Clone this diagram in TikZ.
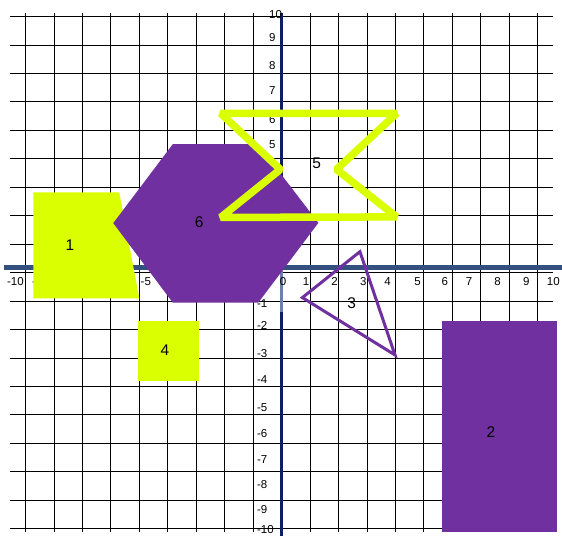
\documentclass[tikz,border=0pt]{standalone}
\usepackage{fontspec}
\setmainfont{Liberation Sans}
\definecolor{shapepurple}{HTML}{7030A0}
\definecolor{shapeyellow}{HTML}{D9FF00}
\definecolor{axnavy}{HTML}{0C1F5E}
\definecolor{axsteel}{HTML}{34507F}
\definecolor{axlight}{HTML}{6A82AA}

\begin{document}
\begin{tikzpicture}[x=27.17pt, y=25.95pt,
  axlab/.style={inner sep=0pt, font=\fontsize{11.5}{13}\selectfont},
  shlab/.style={inner sep=0pt, font=\fontsize{15.5}{18}\selectfont}]
\useasboundingbox (-10.368,-10.146) rectangle (10.317,10.509);
\draw[line width=1pt, black] (-10,-10) grid (10,10);
\draw[line width=3pt, axnavy] (0,10) -- (0,-10.2);
\draw[line width=5pt, axsteel] (-10.22,0.19) -- (10.32,0.19);
\draw[line width=3pt, axlight] (0,0.1) -- (0,-1.52);

% x axis numbers
\node (xm10) at (-9.8,-0.35) [axlab] {-10};
\node (xm9)  at (-9.0,-0.35) [axlab] {-9};
\node (xm5)  at (-5.0,-0.35) [axlab] {-5};
\node (x0)   at (0.05,-0.35) [axlab] {0};
\node (x1)   at (0.9,-0.35)  [axlab] {1};
\node (x2)   at (1.95,-0.35) [axlab] {2};
\node (x3)   at (3.0,-0.35)  [axlab] {3};
\node (x4)   at (3.9,-0.35)  [axlab] {4};
\node (x5)   at (5.0,-0.35)  [axlab] {5};
\node (x6)   at (6.0,-0.35)  [axlab] {6};
\node (x7)   at (6.9,-0.35)  [axlab] {7};
\node (x8)   at (7.95,-0.35) [axlab] {8};
\node (x9)   at (9.0,-0.35)  [axlab] {9};
\node (x10)  at (10.0,-0.35) [axlab] {10};

% y axis numbers
\node (y10) at (-0.47,9.93) [axlab, anchor=west] {10};
\node (y9)  at (-0.47,9.07) [axlab, anchor=west] {9};
\node (y8)  at (-0.47,8.0)  [axlab, anchor=west] {8};
\node (y7)  at (-0.47,7.01) [axlab, anchor=west] {7};
\node (y6)  at (-0.47,5.91) [axlab, anchor=west] {6};
\node (y5)  at (-0.47,4.92) [axlab, anchor=west] {5};
\node (ym1)  at (-0.91,-1.18)  [axlab, anchor=west] {-1};
\node (ym2)  at (-0.91,-2.05)  [axlab, anchor=west] {-2};
\node (ym3)  at (-0.91,-3.11)  [axlab, anchor=west] {-3};
\node (ym4)  at (-0.91,-4.11)  [axlab, anchor=west] {-4};
\node (ym5)  at (-0.91,-5.19)  [axlab, anchor=west] {-5};
\node (ym6)  at (-0.91,-6.19)  [axlab, anchor=west] {-6};
\node (ym7)  at (-0.91,-7.19)  [axlab, anchor=west] {-7};
\node (ym8)  at (-0.91,-8.18)  [axlab, anchor=west] {-8};
\node (ym9)  at (-0.91,-9.14)  [axlab, anchor=west] {-9};
\node (ym10) at (-0.91,-9.90)  [axlab, anchor=west] {-10};

% shapes
\fill[shapeyellow] (-9.14,3.10) -- (-5.98,3.10) -- (-5.24,-0.99) -- (-9.14,-0.99) -- cycle;
\fill[shapepurple] (-6.20,1.91) -- (-4.01,4.95) -- (-0.87,4.95) -- (1.35,1.92)
  -- (-0.86,-1.15) -- (-4.01,-1.15) -- cycle;
\draw[shapeyellow, line width=7.5pt, line join=bevel] (-2.245,6.14) -- (4.23,6.14)
  -- (2.02,3.98) -- (4.23,2.15) -- (-2.245,2.13) -- (-0.05,3.98) -- cycle;
\draw[shapepurple, line width=3pt] (2.88,0.81) -- (0.76,-0.96) -- (4.17,-3.17) -- cycle;
\fill[shapeyellow] (-5.28,-1.86) rectangle (-3.03,-4.17);
\fill[shapepurple] (5.89,-1.86) rectangle (10.15,-9.98);

\node (lab1) at (-7.79,1.07)  [shlab] {1};
\node (lab2) at (7.70,-6.15)  [shlab] {2};
\node (lab3) at (2.58,-1.16)  [shlab] {3};
\node (lab4) at (-4.30,-2.98) [shlab] {4};
\node (lab5) at (1.29,4.22)   [shlab] {5};
\node (lab6) at (-3.04,1.94)  [shlab] {6};
\end{tikzpicture}
\end{document}
